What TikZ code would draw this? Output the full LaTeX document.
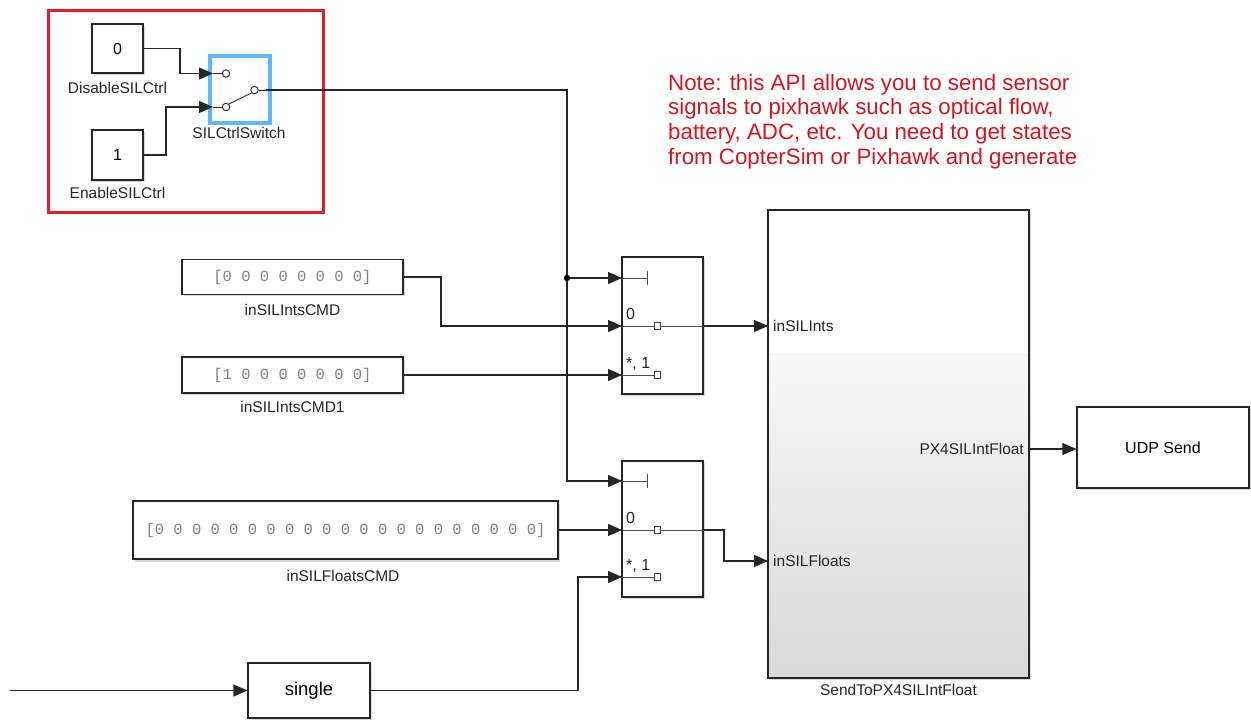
\documentclass[tikz,border=0pt]{standalone}
\usepackage{fontspec}
\setmainfont{Liberation Sans}
\newfontfamily\monofont{Liberation Mono}
\usetikzlibrary{arrows.meta,calc}
\definecolor{notered}{RGB}{214,20,30}
\definecolor{boxred}{RGB}{232,28,40}
\definecolor{selblue}{RGB}{96,184,252}
\definecolor{constgray}{RGB}{130,130,130}
\begin{document}
\begin{tikzpicture}[x=1pt,y=-1pt,
  blk/.style={draw=black!85,line width=1.1pt,fill=white,inner sep=0pt},
  shad/.style={fill=black!15},
  lbl/.style={font=\fontsize{15.5}{17}\selectfont,inner sep=0pt,text=black!85},
  wire/.style={line width=1.1pt,draw=black!85},
  arr/.style={wire,-{Triangle[length=14pt,width=12pt]}},
  swc/.style={draw=black!85,line width=0.9pt,circle,minimum size=7.5pt,inner sep=0pt,fill=white},
  ctext/.style={font=\monofont\fontsize{15.5}{17}\selectfont,text=constgray},
  ptext/.style={font=\fontsize{16}{18}\selectfont,inner sep=0pt,anchor=base west,text=black!85}
]
\useasboundingbox (0,0) rectangle (1251,723);
\fill[white] (0,0) rectangle (1251,723);

% shadows
\foreach \a/\b/\c/\d in {92/24/143/73, 92/130/143/180, 182/259/403/294, 182/357/403/393,
  133/502/558/560, 248/663/370/718, 622/257/703/394, 622/461/703/597,
  768/210/1029/678, 1077/407/1249/488}
  \fill[shad] (\a+2,\b+2) rectangle (\c+2,\d+2);

% red frame
\draw[boxred,line width=3pt] (48,10) rectangle (323,212);

% constant blocks
\node[blk,minimum width=51pt,minimum height=49pt,font=\fontsize{16}{18}\selectfont] (c0) at (117.5,48.5) {0};
\node[lbl] (c0l) at (117.5,88) {DisableSILCtrl};
\node[blk,minimum width=51pt,minimum height=50pt,font=\fontsize{16}{18}\selectfont] (c1) at (117.5,155) {1};
\node[lbl] (c1l) at (117.5,193) {EnableSILCtrl};

% switch
\node[draw=selblue,line width=4pt,minimum width=60pt,minimum height=67pt,inner sep=0pt] (sw) at (240,89.5) {};
\node[lbl] (swl) at (239,133) {SILCtrlSwitch};
\coordinate (swin1) at (213,73.5);
\coordinate (swin2) at (213,107);
\coordinate (swout) at (266,90);
\node[swc] (sc1) at (226,73.5) {};
\node[swc] (sc2) at (226,107) {};
\node[swc] (sc3) at (254.5,90) {};
\draw[wire,line width=0.9pt] (swin1) -- (sc1.west);
\draw[wire,line width=0.9pt] (swin2) -- (sc2.west);
\draw[wire,line width=0.9pt] (sc2.north east) -- (sc3.south west);
\draw[wire,line width=0.9pt] (sc3.east) -- (swout);

\draw[arr] (c0.east) -- (180,48.5) |- (swin1);
\draw[arr] (c1.east) -- (166,155) |- (swin2);

% vector constants
\node[blk,minimum width=221pt,minimum height=35pt,ctext] (ci) at (292.5,277) {[0 0 0 0 0 0 0 0]};
\node[lbl] (cil) at (292.5,309.5) {inSILIntsCMD};
\node[blk,minimum width=221pt,minimum height=36pt,ctext] (ci1) at (292.5,375) {[1 0 0 0 0 0 0 0]};
\node[lbl] (ci1l) at (292.5,406.5) {inSILIntsCMD1};
\node[blk,minimum width=425pt,minimum height=58pt,ctext] (cf) at (345.5,530) {[0 0 0 0 0 0 0 0 0 0 0 0 0 0 0 0 0 0 0 0 0]};
\node[lbl] (cfl) at (343,576) {inSILFloatsCMD};

% single
\node[blk,minimum width=122pt,minimum height=55pt,font=\fontsize{18.5}{20}\selectfont] (sg) at (309,690.5) {single};
\coordinate (src) at (10,690.5);
\draw[arr] (src) -- (sg.west);

% multiport switches
\node[blk,minimum width=81pt,minimum height=137pt] (m1) at (662.5,325.5) {};
\node[blk,minimum width=81pt,minimum height=136pt] (m2) at (662.5,529) {};

% m1 internals
\coordinate (m1p0) at (622,278);
\coordinate (m1p1) at (622,326);
\coordinate (m1p2) at (622,375);
\coordinate (m1o) at (703,326);
\draw[wire,line width=0.9pt,black!70] (m1p0) -- (647,278) (647,271) -- (647,285);
\draw[wire,line width=0.9pt,black!70] (m1p1) -- (m1o);
\draw[wire,line width=0.9pt,black!70] (m1p2) -- (654,375);
\draw[black!75,line width=0.8pt,fill=white] (654,322.5) rectangle (660,329.5);
\draw[black!75,line width=0.8pt,fill=white] (654,371.5) rectangle (660,378.5);
\node[ptext] (m1t0) at (626,319) {0};
\node[ptext] (m1t1) at (626,368) {*, 1};

% m2 internals
\coordinate (m2p0) at (622,481);
\coordinate (m2p1) at (622,530);
\coordinate (m2p2) at (622,577);
\coordinate (m2o) at (703,530);
\draw[wire,line width=0.9pt,black!70] (m2p0) -- (647,481) (647,474) -- (647,488);
\draw[wire,line width=0.9pt,black!70] (m2p1) -- (m2o);
\draw[wire,line width=0.9pt,black!70] (m2p2) -- (654,577);
\draw[black!75,line width=0.8pt,fill=white] (654,526.5) rectangle (660,533.5);
\draw[black!75,line width=0.8pt,fill=white] (654,573.5) rectangle (660,580.5);
\node[ptext] (m2t0) at (626,523) {0};
\node[ptext] (m2t1) at (626,570) {*, 1};

% subsystem
\fill[white] (768,210) rectangle (1029,353);
\shade[top color=black!3,bottom color=black!15] (768,353) rectangle (1029,678);
\node[draw=black!85,line width=1.1pt,minimum width=261pt,minimum height=468pt,inner sep=0pt] (ss) at (898.5,444) {};
\coordinate (ssin1) at (768,326);
\coordinate (ssin2) at (768,561);
\coordinate (ssout) at (1029,449);
\node[lbl,anchor=west] (ssi1) at (773,326) {inSILInts};
\node[lbl,anchor=west] (ssi2) at (773,561) {inSILFloats};
\node[lbl,anchor=east] (sso) at (1024,449) {PX4SILIntFloat};
\node[lbl] (ssl) at (898.5,690) {SendToPX4SILIntFloat};

% UDP
\node[blk,minimum width=172pt,minimum height=81pt,font=\fontsize{16}{18}\selectfont] (udp) at (1163,447.5) {UDP Send};

% wiring
\coordinate (jn) at (567,278);
\draw[wire] (swout) -- (567,90) -- (jn);
\draw[arr] (jn) -- (m1p0);
\draw[arr] (jn) |- (m2p0);
\fill[black] (jn) circle (3.2pt);
\draw[arr] (ci.east) -- (441,277) |- (m1p1);
\draw[arr] (ci1.east) -- (m1p2);
\draw[arr] (cf.east) -- (m2p1);
\draw[arr] (sg.east) -- (578,690.5) |- (m2p2);
\draw[arr] (m1o) -- (ssin1);
\draw[arr] (m2o) -- (724,530) |- (ssin2);
\draw[arr] (ssout) -- (udp.west |- ssout);

% note
\node[anchor=north west,align=left,inner sep=0pt,text=notered,font=\fontsize{22.3}{24.6}\selectfont] (note) at (668,74)
{Note: this API allows you to send sensor\\signals to pixhawk such as optical flow,\\battery, ADC, etc. You need to get states\\from CopterSim or Pixhawk and generate};
\end{tikzpicture}
\end{document}
